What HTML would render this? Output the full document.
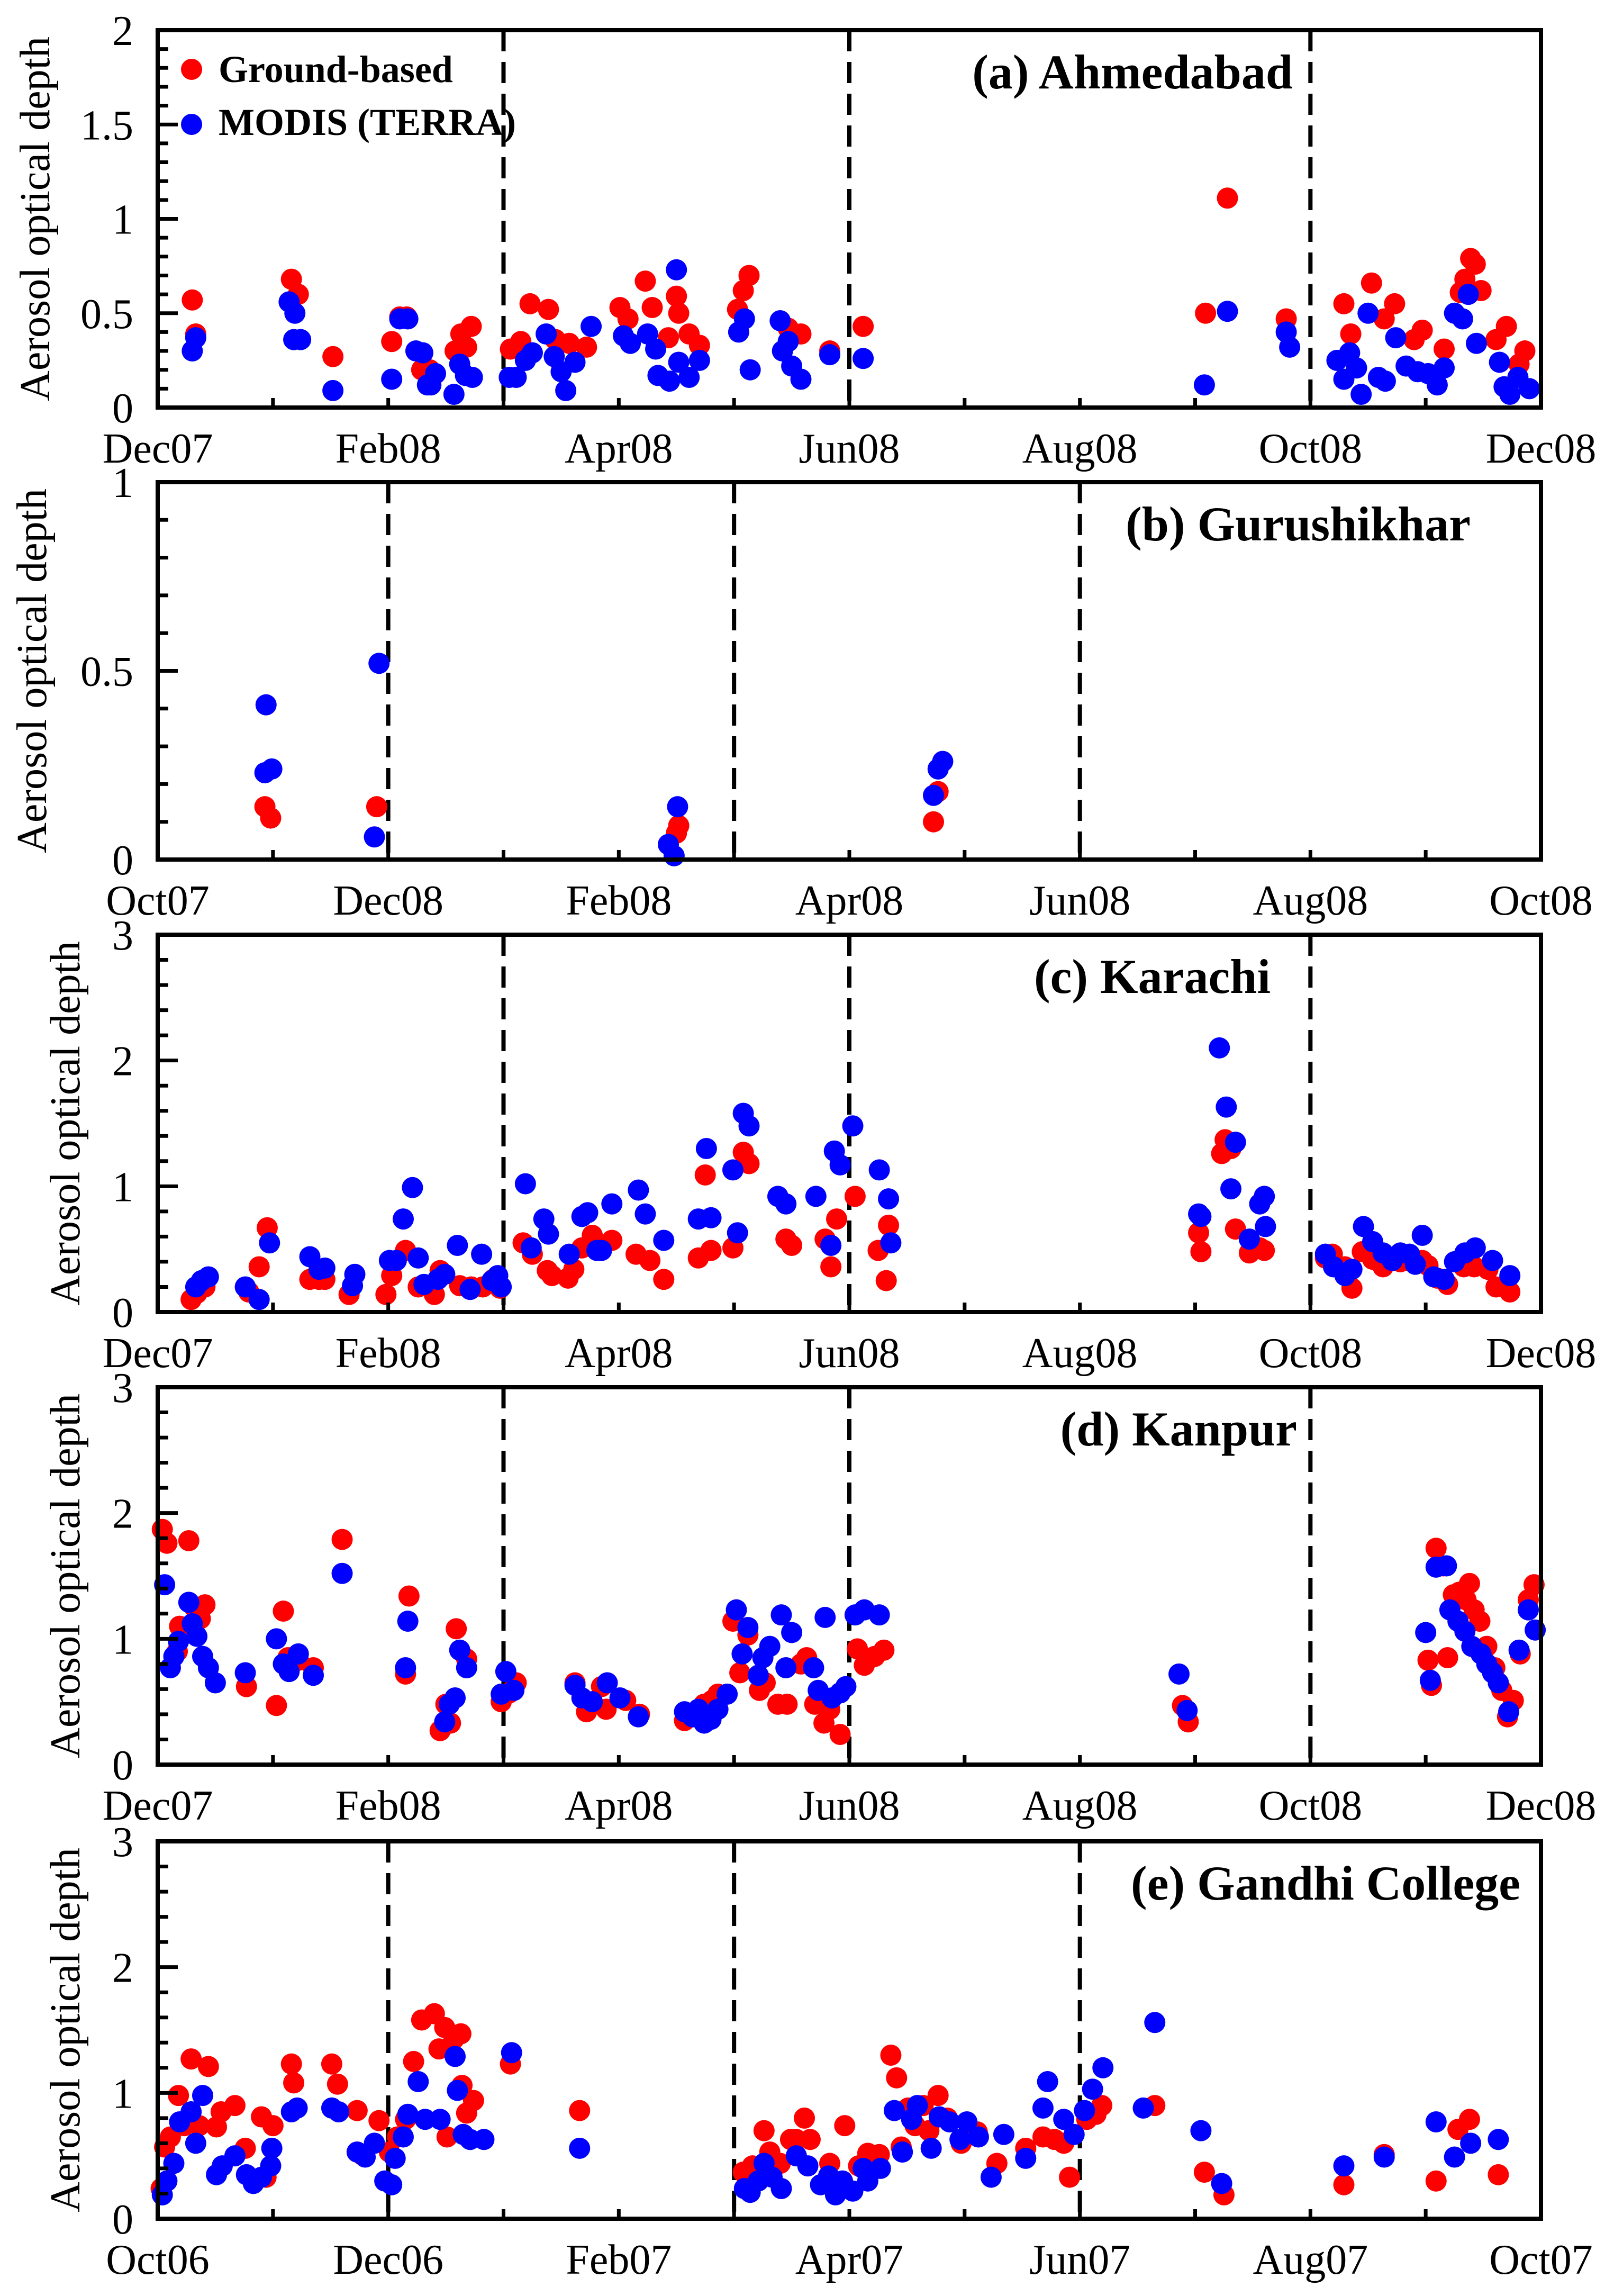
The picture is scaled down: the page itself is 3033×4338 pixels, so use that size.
<!DOCTYPE html>
<html><head><meta charset="utf-8">
<style>
html,body{margin:0;padding:0;background:#fff;}
svg{display:block;}
text{font-family:"Liberation Serif",serif;fill:#000;}
</style></head>
<body>
<svg id="chart" width="3033" height="4338" viewBox="0 0 3033 4338" xmlns="http://www.w3.org/2000/svg"></svg>
<script>
// ---------- data (x = months from axis start, y = AOD) ----------
const aGround = [[0.30,0.57],[0.33,0.39],[1.16,0.68],[1.22,0.60],[1.52,0.27],[2.03,0.35],[2.10,0.48],[2.16,0.48],[2.29,0.20],[2.36,0.20],[2.58,0.30],[2.63,0.39],[2.68,0.32],[2.72,0.43],[3.06,0.31],[3.15,0.35],[3.23,0.55],[3.39,0.52],[3.45,0.36],[3.57,0.34],[3.72,0.32],[4.01,0.53],[4.08,0.47],[4.23,0.67],[4.29,0.53],[4.43,0.37],[4.50,0.59],[4.52,0.50],[4.61,0.39],[4.70,0.33],[5.03,0.52],[5.08,0.62],[5.13,0.70],[5.47,0.42],[5.58,0.39],[5.83,0.30],[6.12,0.43],[9.09,0.50],[9.28,1.11],[9.79,0.47],[10.29,0.55],[10.35,0.39],[10.53,0.66],[10.64,0.47],[10.73,0.55],[10.90,0.36],[10.97,0.41],[11.16,0.31],[11.30,0.61],[11.34,0.68],[11.39,0.79],[11.43,0.76],[11.48,0.62],[11.61,0.36],[11.70,0.43],[11.81,0.23],[11.86,0.30]];
const aModis = [[0.30,0.30],[0.33,0.37],[1.14,0.56],[1.19,0.50],[1.18,0.36],[1.24,0.36],[1.52,0.09],[2.03,0.15],[2.10,0.47],[2.17,0.47],[2.24,0.30],[2.30,0.29],[2.34,0.12],[2.37,0.12],[2.41,0.18],[2.57,0.07],[2.62,0.23],[2.67,0.17],[2.73,0.16],[3.05,0.16],[3.11,0.16],[3.19,0.25],[3.25,0.29],[3.37,0.39],[3.44,0.27],[3.50,0.19],[3.54,0.09],[3.62,0.24],[3.76,0.43],[4.04,0.38],[4.10,0.34],[4.25,0.39],[4.32,0.31],[4.34,0.17],[4.44,0.14],[4.50,0.73],[4.52,0.24],[4.61,0.16],[4.70,0.25],[5.04,0.40],[5.09,0.47],[5.14,0.20],[5.40,0.46],[5.42,0.30],[5.47,0.35],[5.50,0.22],[5.58,0.15],[5.83,0.28],[6.12,0.26],[9.08,0.12],[9.28,0.51],[9.79,0.40],[9.82,0.32],[10.23,0.25],[10.29,0.15],[10.34,0.29],[10.40,0.21],[10.44,0.07],[10.50,0.50],[10.59,0.16],[10.65,0.14],[10.74,0.37],[10.83,0.22],[10.93,0.19],[11.02,0.18],[11.10,0.12],[11.16,0.21],[11.25,0.50],[11.32,0.47],[11.37,0.60],[11.44,0.34],[11.64,0.24],[11.68,0.11],[11.73,0.07],[11.80,0.16],[11.90,0.10]];
const bGround = [[0.93,0.14],[0.98,0.11],[1.90,0.14],[4.50,0.07],[4.52,0.09],[6.73,0.10],[6.77,0.18]];
const bModis = [[0.94,0.41],[0.93,0.23],[0.99,0.24],[1.92,0.52],[1.88,0.06],[4.43,0.04],[4.48,0.01],[4.51,0.14],[6.73,0.17],[6.77,0.24],[6.81,0.26]];
const cGround = [[0.29,0.10],[0.34,0.15],[0.41,0.20],[0.79,0.16],[0.88,0.36],[0.95,0.67],[1.32,0.26],[1.40,0.26],[1.45,0.26],[1.66,0.14],[1.98,0.14],[2.03,0.29],[2.15,0.49],[2.26,0.20],[2.40,0.14],[2.45,0.33],[2.62,0.21],[2.72,0.20],[2.82,0.20],[2.91,0.26],[2.97,0.19],[3.17,0.55],[3.25,0.46],[3.38,0.33],[3.42,0.29],[3.56,0.27],[3.61,0.34],[3.68,0.51],[3.77,0.61],[3.94,0.57],[4.15,0.46],[4.27,0.41],[4.39,0.26],[4.69,0.43],[4.75,1.09],[4.80,0.49],[4.99,0.51],[5.08,1.27],[5.13,1.18],[5.45,0.58],[5.50,0.53],[5.79,0.58],[5.84,0.36],[5.89,0.74],[6.05,0.92],[6.25,0.49],[6.34,0.69],[6.32,0.25],[9.03,0.63],[9.05,0.48],[9.23,1.26],[9.26,1.37],[9.31,1.30],[9.35,0.66],[9.47,0.47],[9.56,0.51],[9.60,0.49],[10.13,0.43],[10.19,0.46],[10.30,0.36],[10.36,0.19],[10.45,0.48],[10.54,0.42],[10.63,0.36],[10.72,0.43],[10.78,0.40],[10.85,0.41],[10.97,0.41],[11.02,0.37],[11.10,0.27],[11.19,0.22],[11.33,0.36],[11.42,0.36],[11.54,0.34],[11.61,0.20],[11.73,0.16]];
const cModis = [[0.33,0.20],[0.38,0.25],[0.44,0.28],[0.76,0.20],[0.88,0.10],[0.97,0.55],[1.32,0.44],[1.40,0.34],[1.45,0.35],[1.69,0.21],[1.71,0.30],[2.01,0.41],[2.07,0.41],[2.13,0.74],[2.21,0.99],[2.26,0.43],[2.31,0.22],[2.43,0.26],[2.49,0.30],[2.60,0.53],[2.71,0.18],[2.81,0.46],[2.90,0.25],[2.95,0.29],[2.98,0.20],[3.19,1.02],[3.24,0.51],[3.35,0.74],[3.39,0.62],[3.57,0.46],[3.68,0.76],[3.73,0.79],[3.81,0.49],[3.85,0.49],[3.94,0.86],[4.17,0.97],[4.23,0.78],[4.39,0.57],[4.69,0.74],[4.76,1.30],[4.80,0.75],[4.99,1.13],[5.03,0.63],[5.08,1.58],[5.13,1.48],[5.38,0.92],[5.45,0.86],[5.71,0.92],[5.84,0.53],[5.87,1.28],[5.92,1.17],[6.03,1.48],[6.26,1.13],[6.34,0.90],[6.36,0.55],[9.03,0.78],[9.05,0.76],[9.21,2.10],[9.27,1.63],[9.35,1.35],[9.31,0.98],[9.47,0.58],[9.56,0.86],[9.60,0.92],[9.61,0.68],[10.13,0.46],[10.20,0.36],[10.30,0.29],[10.36,0.34],[10.46,0.68],[10.54,0.56],[10.63,0.47],[10.71,0.41],[10.78,0.47],[10.86,0.46],[10.91,0.38],[10.97,0.61],[11.07,0.28],[11.16,0.26],[11.25,0.40],[11.34,0.47],[11.43,0.51],[11.58,0.41],[11.73,0.29]];
const dGround = [[0.04,1.87],[0.08,1.76],[0.27,1.78],[0.17,0.90],[0.19,1.10],[0.32,1.25],[0.37,1.16],[0.41,1.27],[0.77,0.62],[1.03,0.47],[1.09,1.22],[1.13,0.85],[1.22,0.83],[1.35,0.77],[1.60,1.79],[2.15,0.72],[2.18,1.34],[2.45,0.27],[2.50,0.48],[2.54,0.33],[2.59,1.08],[2.68,0.84],[2.98,0.50],[3.05,0.57],[3.11,0.65],[3.62,0.65],[3.72,0.42],[3.85,0.62],[3.89,0.44],[4.06,0.51],[4.18,0.40],[4.57,0.35],[4.67,0.42],[4.74,0.48],[4.81,0.51],[4.86,0.56],[4.99,1.14],[5.05,0.73],[5.12,1.03],[5.22,0.59],[5.27,0.65],[5.38,0.48],[5.46,0.48],[5.58,0.80],[5.63,0.85],[5.70,0.48],[5.78,0.33],[5.83,0.44],[5.92,0.24],[6.07,0.92],[6.13,0.79],[6.22,0.86],[6.30,0.91],[8.89,0.47],[8.94,0.34],[11.02,0.83],[11.05,0.63],[11.09,1.72],[11.15,1.58],[11.19,0.85],[11.24,1.35],[11.29,1.37],[11.35,1.31],[11.38,1.44],[11.42,1.23],[11.47,1.14],[11.53,0.94],[11.60,0.77],[11.66,0.59],[11.71,0.38],[11.76,0.51],[11.82,0.88],[11.89,1.31],[11.94,1.43]];
const dModis = [[0.06,1.43],[0.11,0.77],[0.14,0.86],[0.18,0.98],[0.27,1.29],[0.30,1.12],[0.34,1.02],[0.39,0.86],[0.44,0.77],[0.50,0.65],[0.76,0.73],[1.03,1.00],[1.09,0.80],[1.14,0.74],[1.22,0.88],[1.35,0.71],[1.60,1.52],[2.15,0.77],[2.17,1.14],[2.49,0.34],[2.53,0.48],[2.58,0.53],[2.62,0.91],[2.68,0.77],[3.02,0.74],[2.98,0.56],[3.09,0.59],[3.62,0.63],[3.68,0.53],[3.77,0.50],[3.90,0.65],[4.01,0.53],[4.17,0.38],[4.57,0.42],[4.64,0.38],[4.69,0.44],[4.74,0.33],[4.80,0.36],[4.86,0.44],[4.94,0.56],[5.02,1.23],[5.07,0.88],[5.12,1.09],[5.21,0.71],[5.25,0.85],[5.31,0.94],[5.41,1.19],[5.45,0.77],[5.50,1.05],[5.69,0.77],[5.73,0.59],[5.79,1.17],[5.85,0.53],[5.92,0.57],[5.97,0.62],[6.05,1.19],[6.13,1.23],[6.26,1.19],[8.86,0.72],[8.93,0.43],[11.00,1.05],[11.04,0.67],[11.09,1.57],[11.18,1.58],[11.21,1.23],[11.28,1.14],[11.34,1.06],[11.40,0.94],[11.48,0.88],[11.53,0.80],[11.58,0.73],[11.63,0.65],[11.72,0.42],[11.81,0.91],[11.89,1.23],[11.95,1.07]];
const eGround = [[0.03,0.24],[0.06,0.57],[0.11,0.65],[0.18,0.98],[0.23,0.74],[0.29,1.27],[0.36,0.74],[0.44,1.21],[0.51,0.73],[0.55,0.85],[0.67,0.90],[0.76,0.56],[0.90,0.81],[0.94,0.33],[1.00,0.74],[1.16,1.23],[1.18,1.08],[1.51,1.23],[1.56,1.07],[1.73,0.86],[1.77,0.51],[1.92,0.78],[2.01,0.53],[2.08,0.65],[2.15,0.79],[2.22,1.25],[2.29,1.58],[2.40,1.63],[2.49,1.52],[2.57,1.43],[2.63,1.47],[2.44,1.35],[2.51,0.65],[2.64,1.06],[2.68,0.84],[2.74,0.94],[3.06,1.23],[3.66,0.86],[5.08,0.37],[5.16,0.42],[5.26,0.70],[5.31,0.53],[5.40,0.44],[5.49,0.63],[5.54,0.63],[5.61,0.80],[5.66,0.63],[5.83,0.44],[5.94,0.30],[5.96,0.74],[6.08,0.42],[6.16,0.52],[6.26,0.51],[6.36,1.30],[6.41,1.12],[6.45,0.57],[6.51,0.88],[6.57,0.74],[6.64,0.90],[6.69,0.70],[6.77,0.98],[6.85,0.80],[6.97,0.60],[7.11,0.69],[7.28,0.44],[7.53,0.56],[7.68,0.65],[7.78,0.63],[7.86,0.60],[7.91,0.33],[8.06,0.79],[8.14,0.83],[8.19,0.90],[8.65,0.90],[9.08,0.37],[9.25,0.19],[10.29,0.27],[10.64,0.51],[11.09,0.30],[11.28,0.71],[11.38,0.79],[11.63,0.35]];
const eModis = [[0.04,0.19],[0.08,0.30],[0.14,0.44],[0.19,0.77],[0.29,0.85],[0.33,0.60],[0.39,0.98],[0.51,0.35],[0.56,0.42],[0.67,0.50],[0.77,0.35],[0.83,0.28],[0.90,0.33],[0.98,0.42],[0.99,0.56],[1.16,0.85],[1.21,0.88],[1.51,0.88],[1.57,0.85],[1.73,0.53],[1.80,0.49],[1.88,0.60],[1.97,0.30],[2.03,0.27],[2.06,0.48],[2.13,0.65],[2.17,0.83],[2.26,1.09],[2.32,0.79],[2.45,0.79],[2.58,1.29],[2.60,1.02],[2.65,0.67],[2.71,0.63],[2.83,0.63],[3.07,1.32],[3.66,0.56],[5.09,0.24],[5.14,0.21],[5.21,0.30],[5.26,0.44],[5.33,0.33],[5.41,0.24],[5.54,0.50],[5.64,0.42],[5.75,0.27],[5.82,0.34],[5.88,0.19],[5.94,0.30],[6.03,0.22],[6.12,0.40],[6.16,0.30],[6.27,0.40],[6.39,0.86],[6.46,0.53],[6.54,0.79],[6.59,0.90],[6.71,0.56],[6.78,0.81],[6.87,0.77],[6.96,0.63],[7.02,0.77],[7.12,0.65],[7.23,0.33],[7.34,0.67],[7.53,0.48],[7.68,0.88],[7.72,1.09],[7.86,0.79],[7.95,0.67],[8.04,0.86],[8.11,1.03],[8.20,1.20],[8.55,0.88],[8.65,1.56],[9.05,0.70],[9.23,0.28],[10.29,0.42],[10.64,0.49],[11.09,0.77],[11.25,0.49],[11.39,0.60],[11.63,0.63]];

const panelTitles = ["(a) Ahmedabad","(b) Gurushikhar","(c) Karachi","(d) Kanpur","(e) Gandhi College"];
const xTickLabelsA = ["Dec07","Feb08","Apr08","Jun08","Aug08","Oct08","Dec08"];
const xTickLabelsB = ["Oct07","Dec08","Feb08","Apr08","Jun08","Aug08","Oct08"];
const xTickLabelsE = ["Oct06","Dec06","Feb07","Apr07","Jun07","Aug07","Oct07"];
const yMaxes = [2,1,3,3,3];
const yMajorSteps = [0.5,0.5,1,1,1];
const yMinorSteps = [0.1,0.1,0.2,0.2,0.2];
const dashMonthsA = [3,6,10];
const dashMonthsB = [2,5,8];

// ---------- layout ----------
const NS="http://www.w3.org/2000/svg";
const svg=document.getElementById('chart');
const X0=298, X1=2912, H=713;
const tops=[57,911,1766,2621,3479];
const titleEnds=[2443,2779,2401,2451,2873];
const ylabX=[67,61,124,124,124];
function mk(tag,attrs,parent){const e=document.createElementNS(NS,tag);for(const k in attrs)e.setAttribute(k,attrs[k]);(parent||svg).appendChild(e);return e;}
function fmt(v){return (Math.round(v*10)/10).toString();}

const panels=[
 {id:'a',g:aGround,m:aModis,xl:xTickLabelsA,d:dashMonthsA},
 {id:'b',g:bGround,m:bModis,xl:xTickLabelsB,d:dashMonthsB},
 {id:'c',g:cGround,m:cModis,xl:xTickLabelsA,d:dashMonthsA},
 {id:'d',g:dGround,m:dModis,xl:xTickLabelsA,d:dashMonthsA},
 {id:'e',g:eGround,m:eModis,xl:xTickLabelsE,d:dashMonthsB}
];

panels.forEach((p,i)=>{
  const top=tops[i], bot=top+H, ymax=yMaxes[i];
  const xs=m=>X0+(X1-X0)*m/12;
  const ys=v=>bot-H*v/ymax;
  const g=mk('g',{});
  
  
  p.d.forEach(m=>{
    const l=mk('line',{x1:xs(m),x2:xs(m),y1:top,y2:bot,stroke:'#000','stroke-width':8,'stroke-dasharray':'40 20'},g);
    
    
  });
  p.g.forEach(pt=>{
    const c=mk('circle',{cx:xs(pt[0]),cy:ys(pt[1]),r:20,fill:'#ff0000'},g);
    
    
  });
  p.m.forEach(pt=>{
    const c=mk('circle',{cx:xs(pt[0]),cy:ys(pt[1]),r:20,fill:'#0000ff'},g);
    
    
  });
  const nMin=Math.round(ymax/yMinorSteps[i]);
  for(let k=0;k<=nMin;k++){
    const v=k*yMinorSteps[i];
    const major=Math.abs(v/yMajorSteps[i]-Math.round(v/yMajorSteps[i]))<1e-6;
    mk('line',{x1:X0,x2:X0+(major?38:20),y1:ys(v),y2:ys(v),stroke:'#000','stroke-width':7},g);
    if(major){
      const t=mk('text',{x:252,y:ys(v)+28,'font-size':80,'text-anchor':'end'},g);
      t.textContent=fmt(v);
      
      
    }
  }
  for(let m=1;m<12;m++) mk('line',{x1:xs(m),x2:xs(m),y1:bot,y2:bot-18,stroke:'#000','stroke-width':7},g);
  p.xl.forEach((lab,k)=>{
    const t=mk('text',{x:xs(k*2),y:bot+104,'font-size':80,'text-anchor':'middle'},g);
    t.textContent=lab;
    
    
  });
  const fr=mk('rect',{x:X0,y:top,width:X1-X0,height:H,fill:'none',stroke:'#000','stroke-width':8},g);
  
  
  const cy=top+H/2, cx=ylabX[i];
  const yt=mk('text',{x:cx,y:cy,'font-size':80,'text-anchor':'middle','dominant-baseline':'central',transform:`rotate(-90 ${cx} ${cy})`},g);
  yt.textContent='Aerosol optical depth';
  
  
  const tt=mk('text',{x:titleEnds[i],y:top+110,'font-size':92,'font-weight':'bold','text-anchor':'end'},g);
  tt.textContent=panelTitles[i];
  
  
});

const lg=mk('g',{});


const c1=mk('circle',{cx:362,cy:131,r:20,fill:'#ff0000'},lg);


const t1=mk('text',{x:413,y:155,'font-size':72,'font-weight':'bold'},lg);
t1.textContent='Ground-based';


const c2=mk('circle',{cx:362,cy:235,r:20,fill:'#0000ff'},lg);


const t2=mk('text',{x:413,y:255,'font-size':72,'font-weight':'bold'},lg);
t2.textContent='MODIS (TERRA)';


</script>
</body></html>
